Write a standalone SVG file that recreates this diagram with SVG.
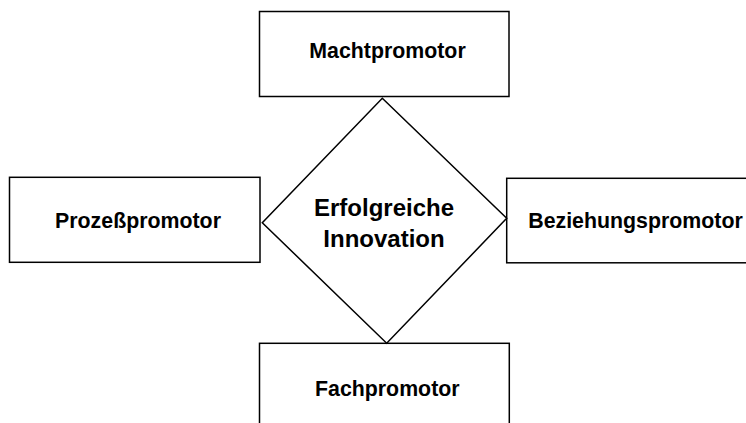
<svg xmlns="http://www.w3.org/2000/svg" width="746" height="423" viewBox="0 0 746 423">
  <style>
    .box { fill: #ffffff; stroke: #000000; stroke-width: 1.5; }
    .label { font-family: "Liberation Sans", Arial, sans-serif; font-weight: bold; font-size: 21.33px; fill: #000000; text-anchor: middle; }
    .center { font-size: 24px; }
  </style>
  <rect x="0" y="0" width="746" height="423" fill="#ffffff"/>

  <g id="connectors"></g>

  <g id="machtpromotor">
    <rect class="box" x="259.5" y="11.5" width="249.5" height="85"/>
    <text class="label" x="387.5" y="58.3">Machtpromotor</text>
  </g>

  <g id="prozesspromotor">
    <rect class="box" x="9.5" y="177.3" width="250.5" height="85"/>
    <text class="label" x="138" y="227.5">Prozeßpromotor</text>
  </g>

  <g id="beziehungspromotor">
    <rect class="box" x="506.7" y="178.3" width="250" height="84.5"/>
    <text class="label" x="635.5" y="227.7">Beziehungspromotor</text>
  </g>

  <g id="fachpromotor">
    <rect class="box" x="259.5" y="343.3" width="249.8" height="90"/>
    <text class="label" x="387.3" y="396">Fachpromotor</text>
  </g>

  <g id="innovation">
    <polygon class="box" points="382.3,98.3 506.7,218.3 386.7,343.3 262.3,222.7"/>
    <text class="label center" x="384" y="216">Erfolgreiche</text>
    <text class="label center" x="384" y="246.5">Innovation</text>
  </g>
</svg>
